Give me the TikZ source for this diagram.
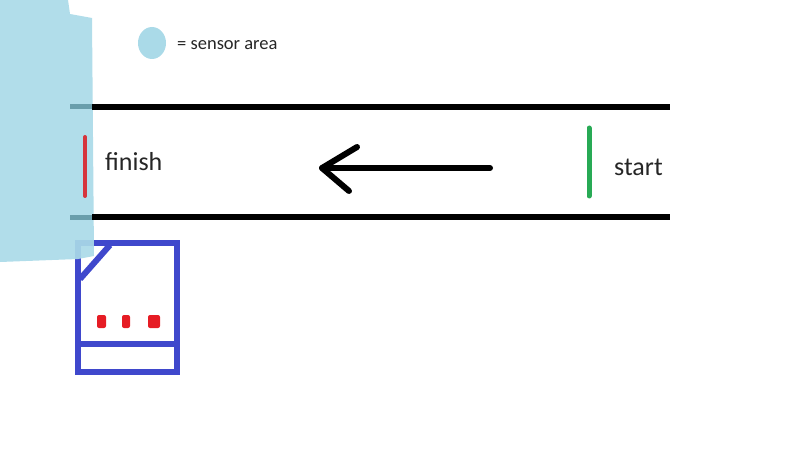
\documentclass[tikz,border=0pt]{standalone}
\usepackage{fontspec}
\setmainfont{Carlito}
\definecolor{sensor}{RGB}{170,218,232}
\definecolor{sensordark}{RGB}{106,158,172}
\definecolor{boxblue}{RGB}{63,72,204}
\definecolor{finred}{RGB}{214,52,60}
\definecolor{dotred}{RGB}{230,28,36}
\definecolor{startgreen}{RGB}{40,170,85}
\tikzset{
  track/.style={line width=5.5pt, black},
  label/.style={anchor=base west, inner sep=0pt, font=\fontsize{26}{30}\selectfont, text=black!85},
  boxline/.style={line width=6pt, boxblue},
  reddot/.style={fill=dotred, rounded corners=2pt},
}
\begin{document}
\begin{tikzpicture}[x=1pt,y=-1pt]
\useasboundingbox (0,0) rectangle (800,449);
% blue box (drawn under the sensor area)
\draw[boxline] (78,243) rectangle (177,372);
\draw[boxline] (78,344) -- (177,344);
\draw[boxline] (110,245) -- (80,279);
\fill[reddot] (97,315) rectangle (106,328);
\fill[reddot] (122,315) rectangle (130,328);
\fill[reddot] (148,315) rectangle (160,328);
% sensor area
\fill[sensor, opacity=0.92] (0,0) -- (68,0) -- (70,14) -- (92,18) -- (94,256) -- (78,259) -- (0,262) -- cycle;
% track
\coordinate (t1) at (92,107);
\coordinate (t2) at (670,107);
\coordinate (b1) at (92,217);
\coordinate (b2) at (670,217);
\draw[track] (t1) -- (t2);
\draw[track] (b1) -- (b2);
\draw[line width=5pt, sensordark] (70,107) -- (t1);
\draw[line width=5pt, sensordark] (70,217) -- (b1);
% finish line
\draw[line width=4pt, finred, line cap=round] (85,137) -- (85,196);
\node[label] (finish) at (105,171) {finish};
% start line
\draw[line width=5pt, startgreen, line cap=round] (589,128) -- (589,196);
\node[label] (start) at (614,176) {start};
% arrow
\coordinate (ae) at (490,168);
\coordinate (at) at (322,168);
\coordinate (au) at (357,147);
\coordinate (al) at (349,191);
\draw[line width=6pt, line cap=round, line join=round] (ae) -- (at);
\draw[line width=6pt, line cap=round, line join=round] (au) -- (at) -- (al);
% legend
\fill[sensor] (152,43) ellipse [x radius=14, y radius=16];
\node[anchor=base west, inner sep=0pt, font=\fontsize{18.5}{22}\selectfont, text=black!85] (legend) at (177,50) {= sensor area};
\end{tikzpicture}
\end{document}
